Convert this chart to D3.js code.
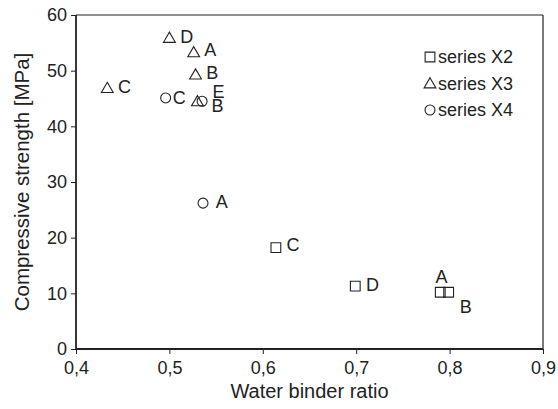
<!DOCTYPE html>
<html>
<head>
<meta charset="utf-8">
<script src="https://cdn.jsdelivr.net/npm/d3@7"></script>
<style>
  html, body { margin: 0; padding: 0; background: #fff; }
  svg { display: block; font-family: "Liberation Sans", Arial, Helvetica, sans-serif; }
</style>
</head>
<body>
<svg id="chart" width="558" height="409"></svg>
<script>
// ---- data ----
const xTicks = [0.4, 0.5, 0.6, 0.7, 0.8, 0.9];
const xTickLabels = ["0,4", "0,5", "0,6", "0,7", "0,8", "0,9"];
const yTicks = [0, 10, 20, 30, 40, 50, 60];

const x2Labels = ["C", "D", "A", "B"];
const x2Ratio = [0.614, 0.699, 0.790, 0.799];
const x2Strength = [18.2, 11.3, 10.2, 10.2];

const x3Labels = ["D", "A", "B", "C", "E"];
const x3Ratio = [0.500, 0.526, 0.528, 0.4335, 0.530];
const x3Strength = [55.7, 53.1, 49.1, 46.7, 44.3];

const x4Labels = ["C", "B", "A"];
const x4Ratio = [0.496, 0.535, 0.536];
const x4Strength = [45.1, 44.5, 26.2];

const seriesNames = ["series X2", "series X3", "series X4"];

// label offsets (style, px)
const x2Offsets = [[17, -3], [17.3, -1], [1.3, -15.6], [17.2, 14.4]];
const x3Offsets = [[17.4, -2.3], [16.6, -3], [16.8, -2.4], [17.2, -2.3], [21, -10.3]];
const x4Offsets = [[13.7, 0], [15.5, 4.3], [18.7, -0.7]];

// ---- layout ----
const W = 558, H = 409;
const m = { left: 76, right: 15, top: 15, bottom: 60 };
const ink = "#222";

const svg = d3.select("#chart");
const x = d3.scaleLinear().domain([0.4, 0.9]).range([m.left, W - m.right]);
const y = d3.scaleLinear().domain([0, 60]).range([H - m.bottom, m.top]);

// frame top/right
svg.append("line").attr("x1", x(0.4)).attr("x2", x(0.9)).attr("y1", y(60)).attr("y2", y(60))
  .attr("stroke", ink).attr("stroke-width", 1.2);
svg.append("line").attr("x1", x(0.9)).attr("x2", x(0.9)).attr("y1", y(60)).attr("y2", y(0))
  .attr("stroke", ink).attr("stroke-width", 1.2);

const xAxis = svg.append("g").attr("transform", `translate(0,${y(0)})`)
  .call(d3.axisBottom(x).tickValues(xTicks).tickFormat((d, i) => xTickLabels[i]).tickSize(5).tickPadding(7));
const yAxis = svg.append("g").attr("transform", `translate(${x(0.4)},0)`)
  .call(d3.axisLeft(y).tickValues(yTicks).tickSize(5).tickPadding(4));
[xAxis, yAxis].forEach(g => {
  g.select(".domain").attr("stroke", ink).attr("stroke-width", 1.8);
  g.selectAll(".tick line").attr("stroke", ink).attr("stroke-width", 1);
  g.selectAll(".tick text").attr("fill", ink).style("font-size", "18px")
    .style("font-family", "'Liberation Sans', Arial, sans-serif");
});
xAxis.select(".domain").attr("d", `M${x(0.4)},0H${x(0.9)}`);
yAxis.select(".domain").attr("d", `M0,${y(60)}V${y(0)}`);

// titles
svg.append("text").attr("x", (x(0.4) + x(0.9)) / 2).attr("y", 398)
  .attr("text-anchor", "middle").attr("fill", ink).style("font-size", "20px")
  .text("Water binder ratio");
svg.append("text").attr("transform", `translate(29,${(y(0) + y(60)) / 2}) rotate(-90)`)
  .attr("text-anchor", "middle").attr("fill", ink).style("font-size", "20.5px")
  .text("Compressive strength [MPa]");

// markers
const sym = {
  square: d3.symbol().type(d3.symbolSquare).size(95),
  triangle: d3.symbol().type(d3.symbolTriangle).size(60),
  circle: d3.symbol().type(d3.symbolCircle).size(78)
};

function drawSeries(ratios, strengths, labels, offsets, shape) {
  const g = svg.append("g");
  ratios.forEach((r, i) => {
    const px = x(r), py = y(strengths[i]);
    g.append("path").attr("d", sym[shape]())
      .attr("transform", `translate(${px},${py})`)
      .attr("fill", "none").attr("stroke", ink).attr("stroke-width", 1.1);
    g.append("text").attr("x", px + offsets[i][0]).attr("y", py + offsets[i][1])
      .attr("text-anchor", "middle").attr("dominant-baseline", "central")
      .attr("fill", ink).style("font-size", "18px").text(labels[i]);
  });
}
drawSeries(x2Ratio, x2Strength, x2Labels, x2Offsets, "square");
drawSeries(x3Ratio, x3Strength, x3Labels, x3Offsets, "triangle");
drawSeries(x4Ratio, x4Strength, x4Labels, x4Offsets, "circle");

// legend
const shapes = ["square", "triangle", "circle"];
const legend = svg.append("g");
seriesNames.forEach((name, i) => {
  const ly = 57 + i * 26.5;
  legend.append("path").attr("d", sym[shapes[i]]())
    .attr("transform", `translate(430,${ly + (shapes[i] === "triangle" ? 1 : 0)})`)
    .attr("fill", "none").attr("stroke", ink).attr("stroke-width", 1.1);
  legend.append("text").attr("x", 438).attr("y", ly).attr("dominant-baseline", "central")
    .attr("fill", ink).style("font-size", "18px").text(name);
});
</script>
</body>
</html>
